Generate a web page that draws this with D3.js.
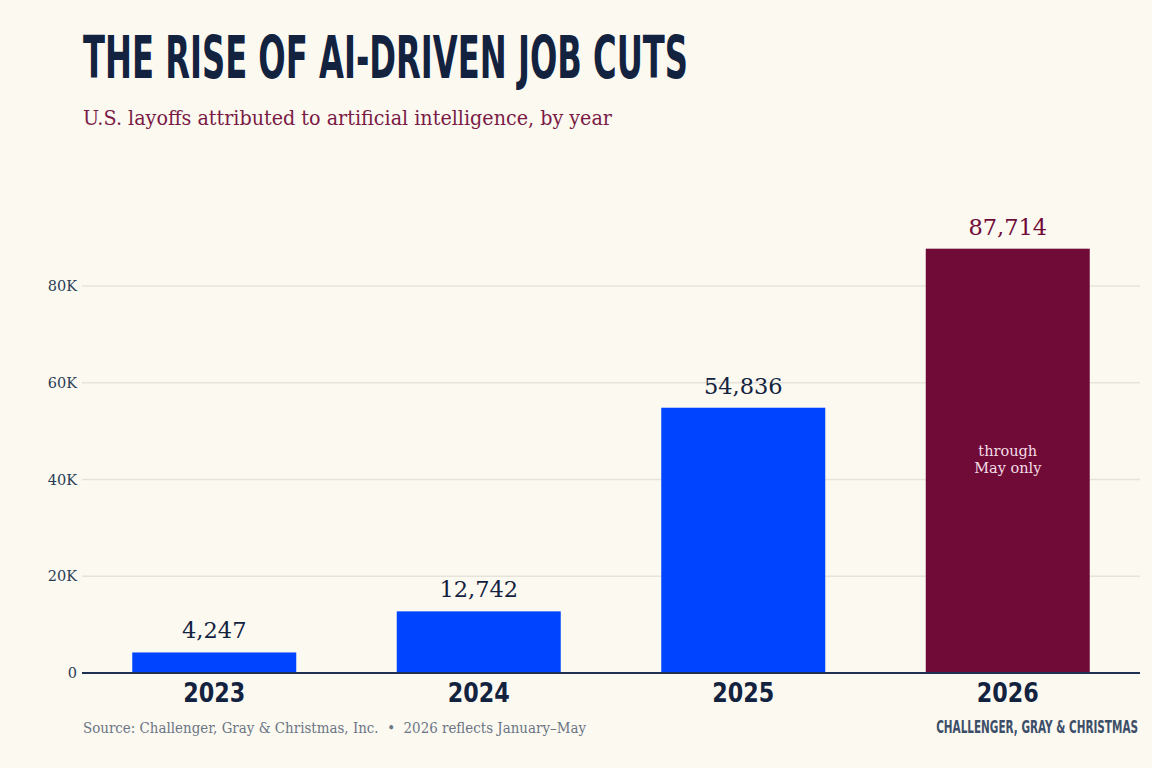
<!DOCTYPE html>
<html>
<head>
<meta charset="utf-8">
<script src="https://cdn.jsdelivr.net/npm/d3@7"></script>
<style>
  body { margin: 0; background: #fcf9f1; }
  svg { display: block; }
</style>
</head>
<body>
<svg width="1152" height="768"></svg>
<script>
  // data
  var years = ['2023', '2024', '2025', '2026'];
  var layoffs = [4247, 12742, 54836, 87714];
  var yTicks = [0, 20000, 40000, 60000, 80000];
  var tickLabels = ['0', '20K', '40K', '60K', '80K'];

  var svg = d3.select('svg');
  var navy = '#13233f';
  var blue = '#0044ff';
  var maroon = '#700b38';
  var serif = "'DejaVu Serif', 'Liberation Serif', serif";
  var cond = "'DejaVu Sans Condensed', 'Liberation Sans Narrow', sans-serif";

  svg.append('rect').attr('width', 1152).attr('height', 768).attr('fill', '#fcf9f1');

  var left = 82, right = 1140, bottom = 673;

  var x = d3.scaleBand().domain(years).range([left, right]).paddingInner(0.38).paddingOuter(0.19);
  var y = d3.scaleLinear().domain([0, 80000]).range([bottom, 286]);

  // title + subtitle
  svg.append('text').attr('x', 83).attr('y', 78)
    .attr('font-family', cond).attr('font-weight', 'bold').attr('font-size', 59)
    .attr('fill', navy).attr('textLength', 605).attr('lengthAdjust', 'spacingAndGlyphs')
    .text('THE RISE OF AI-DRIVEN JOB CUTS');

  svg.append('text').attr('x', 83).attr('y', 125)
    .attr('font-family', serif).attr('font-size', 20)
    .attr('fill', '#7a1a45').attr('textLength', 529).attr('lengthAdjust', 'spacingAndGlyphs')
    .text('U.S. layoffs attributed to artificial intelligence, by year');

  // grid + y labels
  var yAxis = svg.append('g');
  yAxis.selectAll('line').data(yTicks.slice(1)).enter().append('line')
    .attr('x1', left).attr('x2', right)
    .attr('y1', function(d) { return y(d); }).attr('y2', function(d) { return y(d); })
    .attr('stroke', '#e6e3db').attr('stroke-width', 1.3);

  yAxis.selectAll('text').data(yTicks).enter().append('text')
    .attr('x', 77).attr('y', function(d) { return y(d) + 5; })
    .attr('text-anchor', 'end').attr('font-family', serif).attr('font-size', 14.5)
    .attr('fill', '#2b3d55')
    .text(function(d, i) { return tickLabels[i]; });

  // bars
  var bars = svg.append('g');
  bars.selectAll('rect').data(layoffs).enter().append('rect')
    .attr('x', function(d, i) { return x(years[i]); })
    .attr('y', function(d) { return y(d); })
    .attr('width', x.bandwidth())
    .attr('height', function(d) { return bottom - y(d); })
    .attr('fill', function(d, i) { return i == 3 ? maroon : blue; });

  bars.selectAll('text.val').data(layoffs).enter().append('text')
    .attr('class', 'val')
    .attr('x', function(d, i) { return x(years[i]) + x.bandwidth() / 2; })
    .attr('y', function(d) { return y(d) - 14; })
    .attr('text-anchor', 'middle').attr('font-family', serif).attr('font-size', 22.5)
    .attr('fill', function(d, i) { return i == 3 ? maroon : navy; })
    .text(function(d) { return d3.format(',')(d); });

  // note inside the 2026 bar
  var cx26 = x('2026') + x.bandwidth() / 2;
  var note = svg.append('text').attr('text-anchor', 'middle')
    .attr('font-family', serif).attr('font-size', 14.5).attr('fill', '#f3dde5');
  note.append('tspan').attr('x', cx26).attr('y', 456).text('through');
  note.append('tspan').attr('x', cx26).attr('y', 473).text('May only');

  // baseline
  svg.append('line').attr('x1', left).attr('x2', right).attr('y1', bottom).attr('y2', bottom)
    .attr('stroke', '#1f3150').attr('stroke-width', 2);

  // x labels
  svg.append('g').selectAll('text').data(years).enter().append('text')
    .attr('x', function(d) { return x(d) + x.bandwidth() / 2; })
    .attr('y', 702)
    .attr('text-anchor', 'middle').attr('font-family', cond).attr('font-weight', 'bold')
    .attr('font-size', 27).attr('fill', navy)
    .attr('textLength', 62).attr('lengthAdjust', 'spacingAndGlyphs')
    .text(function(d) { return d; });

  // footer
  svg.append('text').attr('x', 83).attr('y', 733)
    .attr('font-family', serif).attr('font-size', 14).attr('fill', '#6b7585')
    .attr('textLength', 503).attr('lengthAdjust', 'spacingAndGlyphs')
    .text('Source: Challenger, Gray & Christmas, Inc.\u00a0\u00a0\u2022\u00a0\u00a02026 reflects January\u2013May');

  // brand: shrink the font until it fits 202px, then stretch it back up vertically
  var brand = svg.append('text').attr('x', 0).attr('y', 0)
    .attr('text-anchor', 'end').attr('font-family', cond).attr('font-weight', 'bold')
    .attr('font-size', 18).attr('fill', '#3d4f68')
    .text('CHALLENGER, GRAY & CHRISTMAS');
  var w = brand.node().getComputedTextLength();
  var fs = 18 * 202 / w;
  brand.attr('font-size', fs)
    .attr('transform', 'translate(1138,733) scale(1,' + (18 / fs) + ')');
</script>
</body>
</html>
